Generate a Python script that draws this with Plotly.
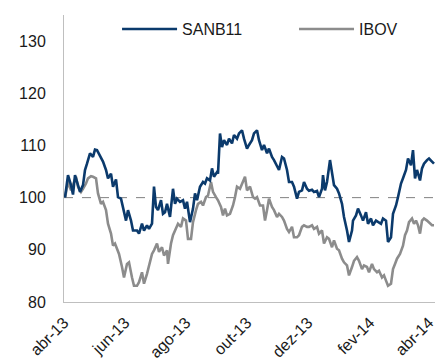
import plotly.graph_objects as go
import pandas as pd

start_date = "2013-04-02"

sanb_days = [0, 3, 6, 8, 10, 12, 15, 18, 20, 22, 25, 28, 30, 32, 35, 38, 41, 43, 46, 48, 51, 53, 56, 58, 61, 63, 66, 68, 72, 74, 77, 79, 82, 84, 87, 89, 91, 93, 96, 98, 100, 102, 105, 108, 110, 112, 115, 118, 120, 122, 125, 128, 130, 132, 135, 138, 140, 142, 145, 147, 149, 152, 153, 155, 157, 159, 162, 164, 167, 169, 172, 174, 177, 179, 182, 184, 187, 189, 192, 194, 197, 199, 202, 204, 207, 209, 212, 214, 217, 219, 222, 224, 227, 229, 232, 234, 237, 239, 242, 244, 247, 249, 252, 254, 257, 258, 260, 262, 265, 267, 269, 272, 274, 277, 279, 282, 284, 287, 288, 291, 293, 296, 298, 301, 303, 306, 308, 311, 313, 316, 318, 321, 323, 326, 328, 331, 333, 336, 338, 341, 343, 346, 348, 350, 352, 355, 357, 359, 362, 364, 367, 369]
sanb_vals = [100.0, 104.3, 102.4, 100.6, 104.3, 103.0, 101.1, 102.4, 105.3, 106.5, 108.5, 107.8, 109.2, 109.1, 108.1, 106.9, 105.3, 103.7, 104.6, 102.1, 103.5, 100.1, 99.8, 98.2, 95.6, 97.6, 95.6, 93.7, 93.7, 93.1, 95.0, 93.7, 94.7, 94.0, 95.0, 102.1, 98.2, 97.6, 99.5, 96.9, 97.2, 98.8, 96.3, 101.7, 98.8, 99.8, 99.2, 99.5, 97.9, 99.2, 95.3, 97.9, 100.8, 99.5, 102.1, 103.0, 102.7, 103.7, 103.3, 105.6, 104.0, 104.9, 104.6, 112.3, 109.7, 111.0, 110.1, 111.3, 110.4, 112.0, 111.3, 112.3, 112.9, 111.3, 109.4, 110.1, 111.0, 112.3, 112.9, 111.0, 109.1, 110.1, 108.5, 109.4, 107.8, 107.2, 105.9, 105.3, 107.8, 107.5, 105.3, 103.0, 103.0, 102.1, 99.8, 101.1, 101.4, 103.0, 101.7, 101.3, 101.5, 101.1, 101.3, 100.1, 101.7, 104.3, 101.4, 103.0, 107.2, 104.3, 102.4, 101.7, 100.8, 98.8, 96.3, 93.7, 91.5, 93.7, 95.6, 96.6, 97.9, 96.6, 95.6, 97.2, 95.0, 96.0, 94.7, 95.6, 95.3, 95.0, 96.0, 95.6, 91.5, 92.4, 96.9, 98.5, 100.1, 102.7, 103.7, 105.3, 107.5, 106.2, 109.1, 103.7, 105.3, 103.3, 105.6, 106.5, 107.2, 107.5, 106.9, 106.5]

ibov_days = [0, 3, 6, 8, 11, 13, 16, 18, 21, 23, 26, 28, 31, 33, 36, 38, 41, 43, 46, 48, 50, 52, 54, 57, 59, 62, 64, 67, 69, 72, 74, 77, 79, 82, 84, 87, 89, 92, 94, 97, 99, 102, 103, 106, 108, 111, 113, 116, 118, 121, 123, 126, 128, 131, 133, 136, 138, 141, 143, 146, 148, 151, 153, 156, 158, 160, 162, 165, 168, 170, 172, 175, 178, 180, 182, 185, 188, 190, 192, 195, 198, 200, 202, 204, 207, 209, 212, 214, 217, 219, 222, 224, 227, 229, 232, 234, 237, 239, 242, 244, 247, 249, 252, 254, 257, 259, 262, 264, 267, 269, 272, 274, 277, 279, 282, 284, 287, 289, 292, 294, 297, 299, 302, 304, 307, 309, 312, 314, 317, 319, 321, 323, 326, 328, 330, 332, 335, 338, 340, 342, 344, 347, 349, 351, 353, 355, 357, 359, 362, 364, 367, 369]
ibov_vals = [100.0, 103.0, 101.4, 102.4, 104.0, 102.1, 101.1, 101.7, 102.7, 103.7, 104.1, 104.0, 103.7, 100.8, 98.8, 99.2, 97.6, 95.0, 93.1, 90.8, 91.2, 90.2, 89.2, 86.7, 84.7, 87.3, 87.6, 84.7, 83.1, 83.1, 83.8, 85.7, 83.5, 85.4, 87.0, 89.2, 89.9, 91.2, 89.6, 90.5, 88.9, 89.9, 87.3, 91.2, 92.8, 94.0, 95.0, 94.4, 96.0, 95.6, 92.1, 92.1, 95.3, 97.6, 98.8, 99.2, 98.5, 100.1, 100.4, 103.0, 101.1, 100.1, 99.5, 98.2, 96.6, 97.9, 96.6, 96.9, 98.5, 100.1, 102.1, 101.7, 103.0, 104.0, 101.4, 102.1, 100.1, 99.8, 100.1, 98.5, 98.5, 95.6, 97.6, 99.8, 98.2, 97.6, 96.3, 96.9, 96.3, 95.6, 94.0, 93.4, 94.4, 92.4, 92.4, 92.8, 94.4, 94.7, 94.4, 94.4, 94.7, 94.0, 94.4, 93.1, 93.7, 91.2, 92.4, 92.1, 90.5, 91.8, 90.2, 89.9, 88.3, 87.6, 87.0, 85.1, 86.7, 87.9, 88.6, 87.9, 86.3, 87.0, 86.7, 85.7, 87.3, 86.3, 85.7, 86.0, 84.7, 85.1, 84.1, 83.1, 83.5, 86.3, 87.3, 88.3, 89.2, 90.8, 92.8, 93.7, 95.3, 96.0, 95.0, 95.6, 94.7, 93.1, 95.6, 96.0, 95.6, 95.3, 94.7, 94.7]

tick_dates = ["2013-04-01", "2013-06-01", "2013-08-01", "2013-10-01", "2013-12-01", "2014-02-01", "2014-04-01"]
tick_labels = ["abr-13", "jun-13", "ago-13", "out-13", "dez-13", "fev-14", "abr-14"]
y_ticks = [80, 90, 100, 110, 120, 130]

base = pd.Timestamp(start_date)
sanb_x = [base + pd.Timedelta(days=d) for d in sanb_days]
ibov_x = [base + pd.Timedelta(days=d) for d in ibov_days]

fig = go.Figure()
fig.add_trace(go.Scatter(x=ibov_x, y=ibov_vals, mode="lines", name="IBOV",
                         line=dict(color="#8c8c8c", width=2.6), legend="legend2",
                         showlegend=True))
fig.add_trace(go.Scatter(x=sanb_x, y=sanb_vals, mode="lines", name="SANB11",
                         line=dict(color="#0b3a6c", width=2.6), legend="legend",
                         showlegend=True))

fig.add_shape(type="line", xref="paper", x0=0, x1=1, yref="y", y0=100, y1=100,
              line=dict(color="#808080", width=1, dash="dash"), layer="below")

legend_common = dict(orientation="h", yanchor="middle", xanchor="left", y=0.951,
                     itemwidth=55, font=dict(size=16), bgcolor="rgba(0,0,0,0)")

fig.update_layout(
    width=443, height=362,
    showlegend=True,
    margin=dict(l=64, r=8, t=15, b=60),
    paper_bgcolor="white", plot_bgcolor="white",
    font=dict(family="Liberation Sans, Arial, sans-serif", size=16, color="#1a1a1a"),
    legend=dict(x=0.143, **legend_common),
    legend2=dict(x=0.62, **legend_common),
    xaxis=dict(type="date", range=["2013-04-01", "2014-04-07"],
               tickvals=tick_dates, ticktext=tick_labels, tickangle=-45,
               showgrid=False, zeroline=False, showline=True, linecolor="#bfbfbf",
               linewidth=1, ticks="", tickfont=dict(size=16), automargin=False,
               ticklabelstandoff=4),
    yaxis=dict(range=[80, 135], tickvals=y_ticks, showgrid=False, zeroline=False,
               showline=True, linecolor="#bfbfbf", linewidth=1,
               ticks="outside", ticklen=14, tickcolor="rgba(0,0,0,0)",
               tickfont=dict(size=16), automargin=False),
)

fig.write_html("out.html")
